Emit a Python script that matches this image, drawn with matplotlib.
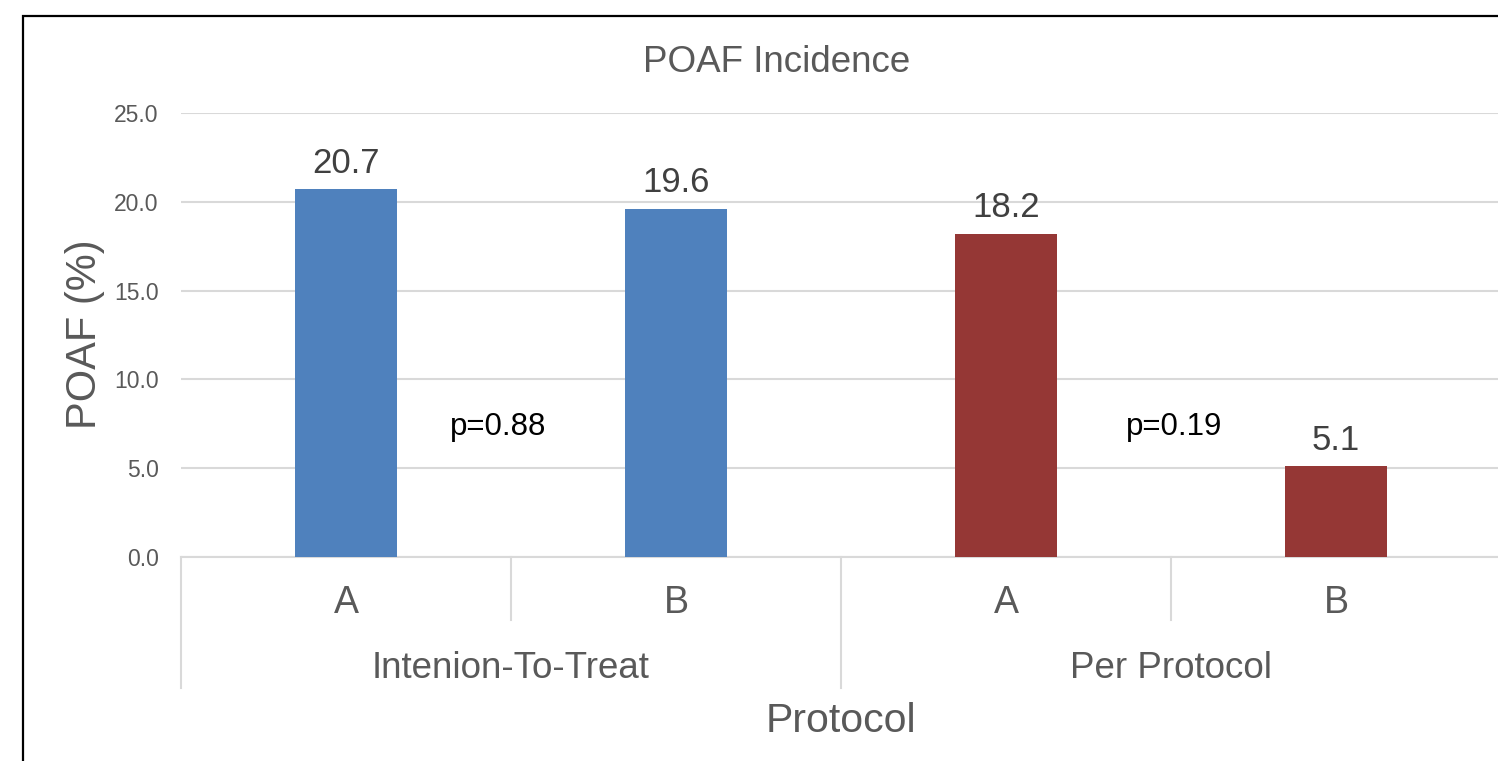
import matplotlib
matplotlib.use("Agg")
import matplotlib.pyplot as plt
from matplotlib.patches import Rectangle
import matplotlib.transforms as mtransforms

plt.rcParams['font.family'] = ['Liberation Sans', 'DejaVu Sans']

# Data
categories = ["A", "B", "A", "B"]
groups = ["Intenion-To-Treat", "Per Protocol"]
values = [20.7, 19.6, 18.2, 5.1]
bar_colors = ["#4F81BD", "#4F81BD", "#953735", "#953735"]
p_labels = ["p=0.88", "p=0.19"]
p_x = [0.46, 2.51]
p_y = [7.3, 7.3]
yticks = [0.0, 5.0, 10.0, 15.0, 20.0, 25.0]

W, H = 1498, 761
fig = plt.figure(figsize=(W / 100, H / 100), dpi=100)

# black frame
fig.patches.append(Rectangle((23 / W, -0.05), 1.2, 1 - 16 / H + 0.05,
                             transform=fig.transFigure, fill=False,
                             edgecolor="black", linewidth=1.6))

left, right = 181 / W, 1501 / W
bottom, top = 1 - 557 / H, 1 - 113 / H
ax = fig.add_axes([left, bottom, right - left, top - bottom])
ax.set_xlim(-0.5, 3.5)
ax.set_ylim(0, 25)

x = list(range(len(values)))
ax.bar(x, values, width=0.31, color=bar_colors, zorder=3)

for xi, v in zip(x, values):
    ax.annotate(f"{v:.1f}", (xi, v), xytext=(0, 7), textcoords="offset points",
                ha="center", va="bottom", fontsize=25, color="#404040")

for px, py, lab in zip(p_x, p_y, p_labels):
    ax.text(px, py, lab, ha="center", va="center", fontsize=22.5, color="black")

ax.set_yticks(yticks)
ax.set_yticklabels([f"{t:.1f}" for t in yticks], fontsize=16.5, color="#595959")
ax.tick_params(axis="y", length=0, pad=16)
ax.tick_params(axis="x", length=0, labelbottom=False)
ax.yaxis.grid(True, color="#D9D9D9", linewidth=1.5, zorder=0)
ax.set_axisbelow(True)
for s in ["top", "right", "left"]:
    ax.spines[s].set_visible(False)
ax.spines["bottom"].set_color("#D9D9D9")
ax.spines["bottom"].set_linewidth(1.5)

trans = mtransforms.blended_transform_factory(ax.transData, ax.transAxes)
# category labels
for xi, c in zip(x, categories):
    ax.text(xi, -0.104, c, transform=trans, ha="center", va="center",
            fontsize=27, color="#595959")
# group labels
for gi, g in enumerate(groups):
    ax.text(gi * 2 + 0.5, -0.251, g, transform=trans, ha="center", va="center",
            fontsize=26.5, color="#595959")
# separators
for b in [0.5, 2.5]:
    ax.plot([b, b], [0, -0.142], transform=trans, color="#D9D9D9",
            linewidth=1.5, clip_on=False)
for b in [-0.5, 1.5, 3.5]:
    ax.plot([b, b], [0, -0.295], transform=trans, color="#D9D9D9",
            linewidth=1.5, clip_on=False)

ax.text(1.5, -0.37, "Protocol", transform=trans, ha="center", va="center",
        fontsize=29.5, color="#595959")
fig.text(85 / W, 1 - 334 / H, "POAF (%)", rotation=90, ha="center", va="center",
         fontsize=30, color="#595959")
fig.text(777 / W, 1 - 63 / H, "POAF Incidence", ha="center", va="center",
         fontsize=26.5, color="#595959")

fig.savefig("out.png", dpi=100)
